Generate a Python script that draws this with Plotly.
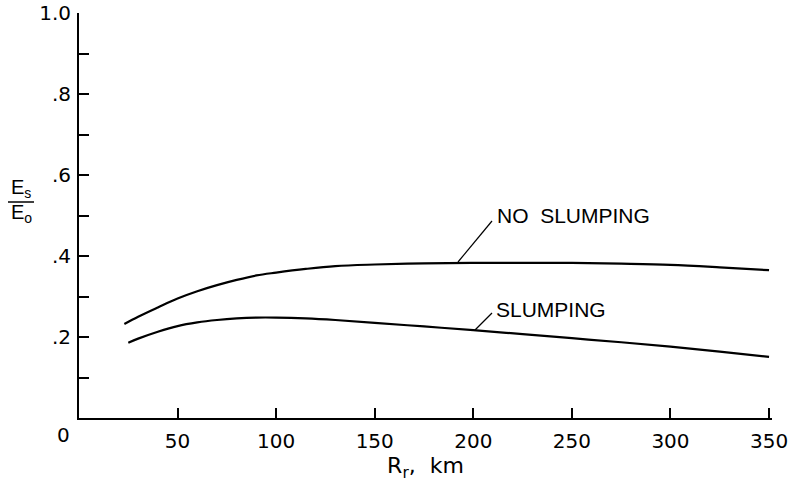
import plotly.graph_objects as go

# Data
no_slump_x = [23, 30, 40, 50, 60, 70, 80, 90, 100, 115, 130, 150, 175, 200, 225, 250, 275, 300, 325, 350]
no_slump_y = [0.232, 0.250, 0.273, 0.295, 0.313, 0.328, 0.341, 0.352, 0.359, 0.368, 0.375, 0.379, 0.382,
              0.383, 0.383, 0.383, 0.381, 0.378, 0.372, 0.365]
slump_x = [25, 30, 40, 50, 60, 70, 80, 90, 100, 115, 130, 150, 175, 200, 225, 250, 275, 300, 325, 350]
slump_y = [0.186, 0.196, 0.213, 0.227, 0.236, 0.242, 0.246, 0.248, 0.248, 0.246, 0.242, 0.235, 0.226,
           0.217, 0.207, 0.197, 0.187, 0.176, 0.164, 0.151]

x_tickvals = [50, 100, 150, 200, 250, 300, 350]
x_ticktext = ["50", "100", "150", "200", "250", "300", "350"]
y_tickvals = [0.2, 0.4, 0.6, 0.8, 1.0]
y_ticktext = [".2", ".4", ".6", ".8", "1.0"]

FONT = "Liberation Sans, Arial, sans-serif"
TFONT = "DejaVu Sans, Liberation Sans, sans-serif"
L, R, T, B = 79, 16, 13, 66
W, H = 788, 484
PW = W - L - R
PH = H - T - B


def px(xp):
    return (xp - L) / PW


def py(yp):
    return (H - B - yp) / PH


fig = go.Figure()
fig.add_trace(go.Scatter(x=no_slump_x, y=no_slump_y, mode="lines", line=dict(color="black", width=2.2, shape="spline"),
                         name="NO SLUMPING", hoverinfo="skip", cliponaxis=False))
fig.add_trace(go.Scatter(x=slump_x, y=slump_y, mode="lines", line=dict(color="black", width=2.2, shape="spline"),
                         name="SLUMPING", hoverinfo="skip", cliponaxis=False))

fig.update_xaxes(range=[0, 351.5], automargin=False, showgrid=False, zeroline=False, showline=True,
                 linecolor="black", linewidth=2,
                 ticks="inside", ticklen=10, tickwidth=1.5, tickcolor="black",
                 tickvals=x_tickvals, ticktext=x_ticktext, ticklabelstandoff=4, ticklabeloverflow="allow",
                 tickfont=dict(family=TFONT, size=20, color="black"),
                 title=dict(text="R<sub>r</sub>,  km", font=dict(family=TFONT, size=22, color="black"), standoff=2))
fig.update_yaxes(range=[0, 1.0], automargin=False, showgrid=False, zeroline=False, showline=True,
                 linecolor="black", linewidth=2,
                 ticks="inside", ticklen=10, tickwidth=1.5, tickcolor="black",
                 tickvals=y_tickvals, ticktext=y_ticktext, ticklabelstandoff=2, ticklabeloverflow="allow",
                 minor=dict(tickvals=[0.1, 0.3, 0.5, 0.7, 0.9], ticks="inside", ticklen=10, tickwidth=1.5,
                            tickcolor="black", showgrid=False),
                 tickfont=dict(family=TFONT, size=20, color="black"))

annots = []
# corner zero label
annots.append(dict(xref="paper", yref="paper", x=px(63), y=py(435), text="0", showarrow=False,
                   font=dict(family=TFONT, size=20, color="black"), xanchor="center", yanchor="middle"))
# y-axis title as fraction
annots.append(dict(xref="paper", yref="paper", x=px(21), y=py(188), text="E<sub>s</sub>", showarrow=False,
                   font=dict(family=FONT, size=20, color="black"), xanchor="center", yanchor="middle"))
annots.append(dict(xref="paper", yref="paper", x=px(21), y=py(213), text="E<sub>o</sub>", showarrow=False,
                   font=dict(family=FONT, size=20, color="black"), xanchor="center", yanchor="middle"))
# labels
annots.append(dict(xref="paper", yref="paper", x=px(495), y=py(215), text="NO  SLUMPING", showarrow=False,
                   font=dict(family=FONT, size=21, color="black"), xanchor="left", yanchor="middle"))
annots.append(dict(xref="paper", yref="paper", x=px(494), y=py(309), text="SLUMPING", showarrow=False,
                   font=dict(family=FONT, size=21, color="black"), xanchor="left", yanchor="middle"))

shapes = [
    dict(type="line", xref="paper", yref="paper", x0=px(8), x1=px(34), y0=py(202), y1=py(202),
         line=dict(color="black", width=1.5)),
    # leader lines
    dict(type="line", xref="paper", yref="paper", x0=px(458), y0=py(262), x1=px(492), y1=py(221),
         line=dict(color="black", width=1.2)),
    dict(type="line", xref="paper", yref="paper", x0=px(475), y0=py(330), x1=px(492), y1=py(313),
         line=dict(color="black", width=1.2)),
]

fig.update_layout(
    width=W, height=H, margin=dict(l=L, r=R, t=T, b=B, autoexpand=False),
    paper_bgcolor="white", plot_bgcolor="white", showlegend=False,
    annotations=annots, shapes=shapes,
)

fig.write_html("out.html", config={"displayModeBar": False},
               post_script="document.body.style.margin='0';document.body.style.overflow='hidden';")
